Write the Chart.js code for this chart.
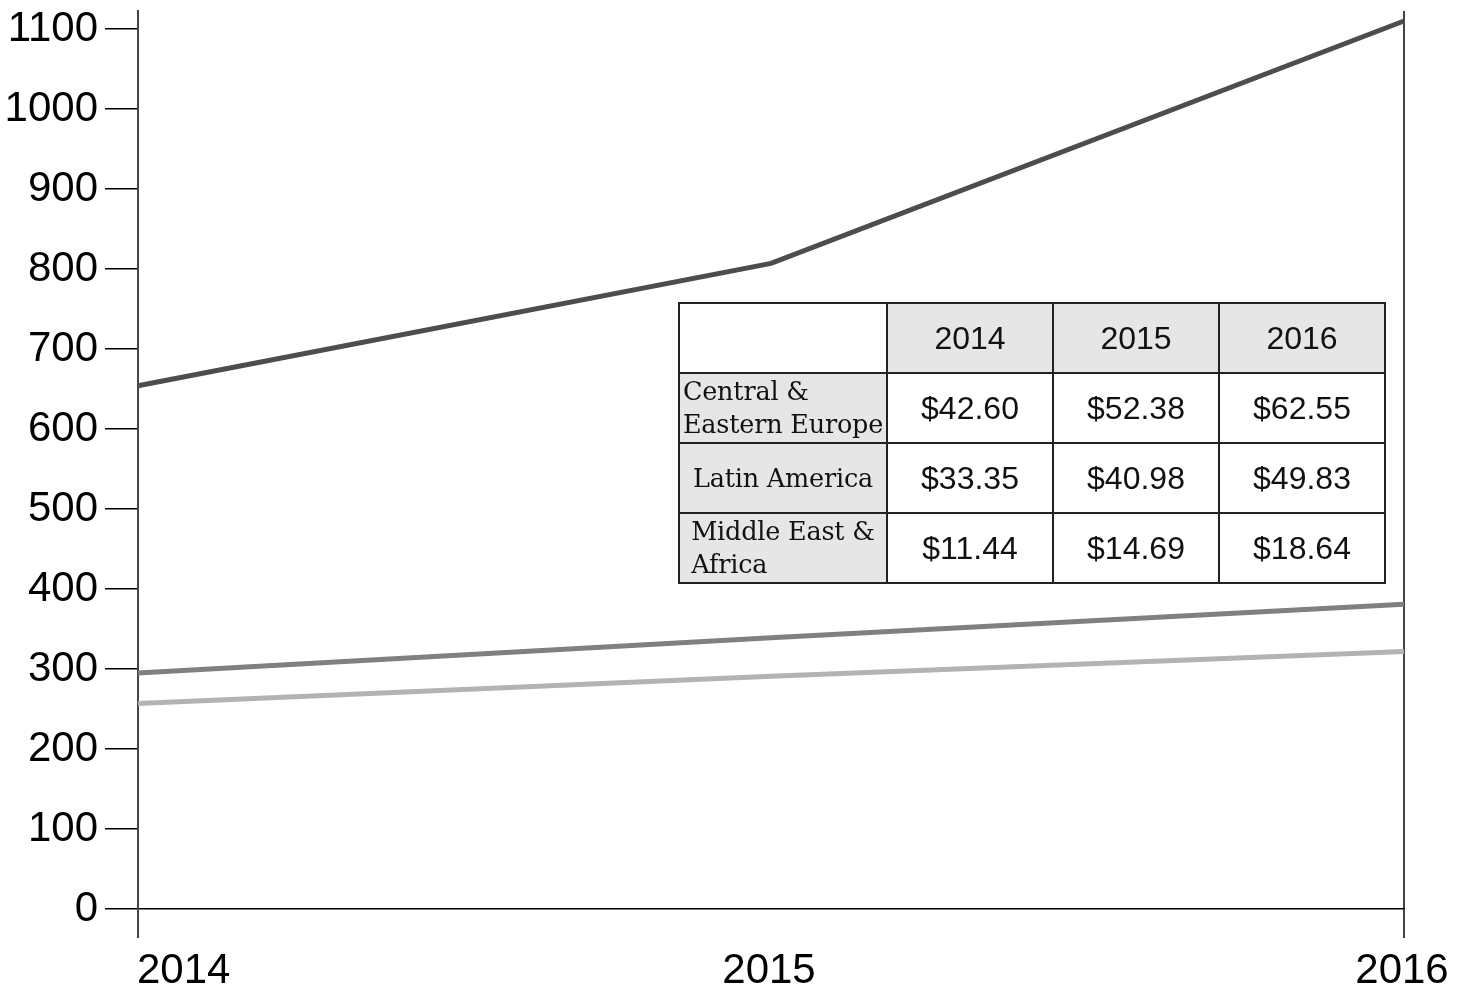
<!DOCTYPE html>
<html>
<head>
<meta charset="utf-8">
<script src="https://cdn.jsdelivr.net/npm/chart.js@4/dist/chart.umd.min.js"></script>
<style>
  html, body { margin: 0; padding: 0; background: #fff; }
  #wrap { position: relative; width: 1468px; height: 988px; }
  #c { position: absolute; left: 0; top: 0; }
  table {
    position: absolute; left: 678px; top: 302px;
    border-collapse: collapse; table-layout: fixed;
    width: 707px; height: 282px;
  }
  td {
    border: 2px solid #222; padding: 0; text-align: center; vertical-align: middle;
    font-family: "Liberation Sans", Arial, sans-serif; font-size: 32px; color: #111;
    height: 68px;
  }
  td.h { background: #e6e6e6; }
  td.r { background: #e6e6e6; font-family: "DejaVu Serif", "Liberation Serif", serif; font-size: 25.5px; line-height: 33px; letter-spacing: -0.2px; }
  td.r span { display: inline-block; text-align: left; }
</style>
</head>
<body>
<div id="wrap">
  <canvas id="c" width="1468" height="988"></canvas>
  <table id="tbl"></table>
</div>
<script>
const years = ['2014', '2015', '2016'];
const seriesDark = [654, 807, 1110];
const seriesMid = [295, 339, 381];
const seriesLight = [257, 291, 322];
const yTickStep = 100;
const yMax = 1122.5;

const tableRegions = ['Central &amp;<br>Eastern Europe', 'Latin America', 'Middle East &amp;<br>Africa'];
const tableValues = [
  ['$42.60', '$52.38', '$62.55'],
  ['$33.35', '$40.98', '$49.83'],
  ['$11.44', '$14.69', '$18.64']
];

// build table
const tbl = document.getElementById('tbl');
let html = '<colgroup><col style="width:208px"><col style="width:166px"><col style="width:166px"><col style="width:166px"></colgroup>';
html += '<tr><td></td>' + years.map(y => '<td class="h">' + y + '</td>').join('') + '</tr>';
tableRegions.forEach((r, i) => {
  html += '<tr><td class="r"><span>' + r + '</span></td>' + tableValues[i].map(v => '<td>' + v + '</td>').join('') + '</tr>';
});
tbl.innerHTML = html;

const FONT = '"Liberation Sans", Arial, sans-serif';

const xLabelPlugin = {
  id: 'xLabels',
  afterDraw(chart) {
    const ctx = chart.ctx;
    const xs = chart.scales.x;
    ctx.save();
    ctx.font = '42px ' + FONT;
    ctx.fillStyle = '#000';
    ctx.textBaseline = 'alphabetic';
    years.forEach((y, i) => {
      const px = xs.getPixelForValue(i);
      ctx.textAlign = i === 0 ? 'left' : 'center';
      ctx.fillText(y, i === 0 ? px - 1 : px - 2, 983);
    });
    ctx.restore();
  }
};

new Chart(document.getElementById('c'), {
  type: 'line',
  data: {
    labels: years,
    datasets: [
      { data: seriesDark, borderColor: '#4d4d4d', borderWidth: 5, pointRadius: 0, tension: 0 },
      { data: seriesMid, borderColor: '#808080', borderWidth: 5, pointRadius: 0, tension: 0 },
      { data: seriesLight, borderColor: '#b3b3b3', borderWidth: 5, pointRadius: 0, tension: 0 }
    ]
  },
  options: {
    responsive: false,
    animation: false,
    layout: { padding: { top: 11, right: 64, left: 0, bottom: 0 } },
    plugins: { legend: { display: false }, tooltip: { enabled: false } },
    scales: {
      x: {
        offset: false,
        ticks: { display: false },
        grid: {
          drawOnChartArea: true,
          tickLength: 29,
          lineWidth: 2,
          color: (c) => c.index === 1 ? 'rgba(0,0,0,0)' : '#444'
        },
        border: { display: true, color: '#000', width: 1.5 },
        afterFit: (s) => { s.height = 79; s.paddingLeft = 0; s.paddingRight = 0; }
      },
      y: {
        min: 0,
        max: yMax,
        ticks: {
          stepSize: yTickStep, includeBounds: false,
          font: { size: 42, family: FONT }, color: '#000', padding: 7,
          callback: (v) => String(v)
        },
        grid: { drawOnChartArea: false, tickLength: 33, lineWidth: 1.5, color: '#000' },
        border: { display: true, color: '#444', width: 2 },
        afterFit: (s) => { s.width = 138; s.paddingTop = 0; s.paddingBottom = 0; }
      }
    }
  },
  plugins: [xLabelPlugin]
});
</script>
</body>
</html>
